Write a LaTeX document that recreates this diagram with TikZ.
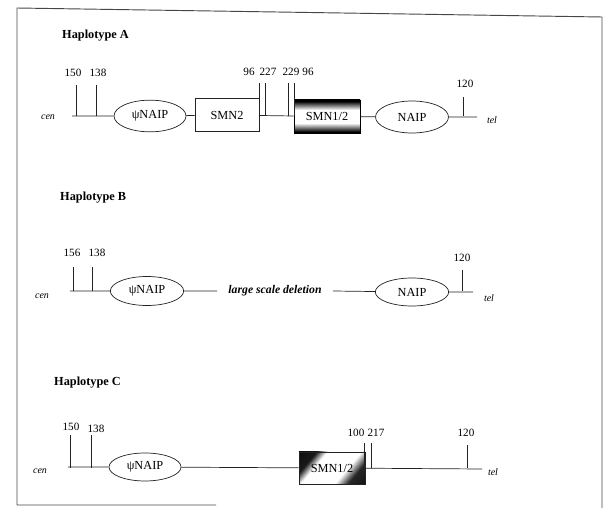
\documentclass[tikz,border=0pt]{standalone}
\usepackage{fontspec}
\setmainfont{Liberation Serif}
\usetikzlibrary{positioning, shapes.geometric}
\definecolor{ink}{RGB}{35,35,35}
\definecolor{frameink}{RGB}{70,70,70}
\pgfdeclareverticalshading{bandfade}{100bp}{color(0bp)=(black); color(27bp)=(black); color(40bp)=(white); color(60bp)=(white); color(73bp)=(black); color(100bp)=(black)}
\pgfdeclareverticalshading{cornerfade}{100bp}{color(0bp)=(black); color(28bp)=(black!85); color(38bp)=(white); color(64bp)=(white); color(72bp)=(black!90); color(100bp)=(black)}
\tikzset{
  locus/.style={ellipse, draw=ink, line width=0.6pt, minimum width=21.6mm, minimum height=9.5mm, inner sep=0pt, font=\fontsize{10.5}{12}\selectfont},
  genebox/.style={rectangle, draw=ink, line width=0.6pt, minimum width=19.2mm, minimum height=9.9mm, inner sep=0pt, font=\fontsize{10.5}{12}\selectfont},
  marker/.style={font=\fontsize{9.5}{11}\selectfont, inner sep=1pt},
  arm/.style={font=\itshape\fontsize{8.5}{10}\selectfont, inner sep=1pt},
  hapname/.style={font=\bfseries\fontsize{10.5}{12}\selectfont, anchor=west, inner sep=0pt},
  chrom/.style={draw=ink, line width=0.6pt},
}

\begin{document}
\begin{tikzpicture}[x=0.03cm, y=-0.03cm]
\useasboundingbox (0,0) rectangle (605,508);
\coordinate (f1) at (17,8);
\coordinate (f2) at (602,17);
\coordinate (f3) at (602,508);
\coordinate (f4) at (17,505);
\draw[frameink, line width=0.8pt] (f4) -- (f1) -- (f2) (f3) -- (f3 |- f2) (f4) -- (216,505);

\node[hapname] (titleA) at (62,36) {Haplotype A};
\node[arm] (cenA) at (48,117) {cen};
\coordinate (startA) at (72,116);
\node[locus] (pnA) at (150,116) {ψNAIP};
\node[genebox] (smn2A) at (227,115) {SMN2};
\node[genebox, minimum width=19.8mm, shading=bandfade, draw=black, line width=0.8pt] (smnA) at (327,116.5) {SMN1/2};
\node[locus, minimum width=21.9mm, minimum height=9.6mm] (naipA) at (412,117) {NAIP};
\coordinate (endA) at (477,117);
\node[arm] (telA) at (492,120) {tel};
\draw[chrom] (startA) -- (pnA) (pnA) -- (smn2A) (smn2A) -- (smnA) (smnA) -- (naipA) (naipA) -- (endA);
\foreach \i/\x/\t/\lx/\ly/\lab in {1/76/85/73/73/150, 2/96/85/98/73/138, 3/259/83/249/72/96, 4/265/83/268/72/227, 5/288/83/291/72/229, 6/294/83/308/72/96, 7/463/97/465/84/120} {
  \coordinate (A-\i-b) at (\x,116);
  \coordinate (A-\i-t) at (\x,\t);
  \node[marker] (A-\i-l) at (\lx,\ly) {\lab};
  \draw[chrom] (A-\i-b) -- (A-\i-t);
}

\node[hapname] (titleB) at (60,198) {Haplotype B};
\node[arm] (cenB) at (42,296) {cen};
\coordinate (startB) at (70,291);
\node[locus, minimum width=22mm, minimum height=8.7mm] (pnB) at (147,291) {ψNAIP};
\coordinate (gapB1) at (217,291);
\node[font=\bfseries\itshape\fontsize{10}{12}\selectfont] (delB) at (275,291) {large scale deletion};
\coordinate (gapB2) at (333,291);
\node[locus, minimum width=22mm, minimum height=8.4mm] (naipB) at (412,292) {NAIP};
\coordinate (endB) at (473,292);
\node[arm] (telB) at (489,298) {tel};
\draw[chrom] (startB) -- (pnB) (pnB) -- (gapB1) (gapB2) -- (naipB) (naipB) -- (endB);
\foreach \i/\x/\t/\lx/\ly/\lab in {1/73/267/72/253/156, 2/92/267/97/253/138, 3/462/270/462/258/120} {
  \coordinate (B-\i-b) at (\x,291);
  \coordinate (B-\i-t) at (\x,\t);
  \node[marker] (B-\i-l) at (\lx,\ly) {\lab};
  \draw[chrom] (B-\i-b) -- (B-\i-t);
}

\node[hapname] (titleC) at (54,383) {Haplotype C};
\node[arm] (cenC) at (40,471) {cen};
\coordinate (startC) at (68,467);
\node[locus, minimum width=21.6mm, minimum height=8.4mm] (pnC) at (145,467) {ψNAIP};
\node[genebox, minimum width=19.8mm, minimum height=9.6mm, shading=cornerfade, shading angle=50] (smnC) at (332,468) {SMN1/2};
\coordinate (endC) at (482,469);
\node[arm] (telC) at (493,472) {tel};
\draw[chrom] (startC) -- (pnC) (pnC) -- (smnC) (smnC) -- (endC);
\foreach \i/\x/\t/\lx/\ly/\lab in {1/70/435/71/427/150, 2/91/435/96/429/138, 3/364/443/356/433/100, 4/371/443/376/433/217, 5/467/445/466/433/120} {
  \coordinate (C-\i-b) at (\x,468);
  \coordinate (C-\i-t) at (\x,\t);
  \node[marker] (C-\i-l) at (\lx,\ly) {\lab};
  \draw[chrom] (C-\i-b) -- (C-\i-t);
}
\end{tikzpicture}
\end{document}
